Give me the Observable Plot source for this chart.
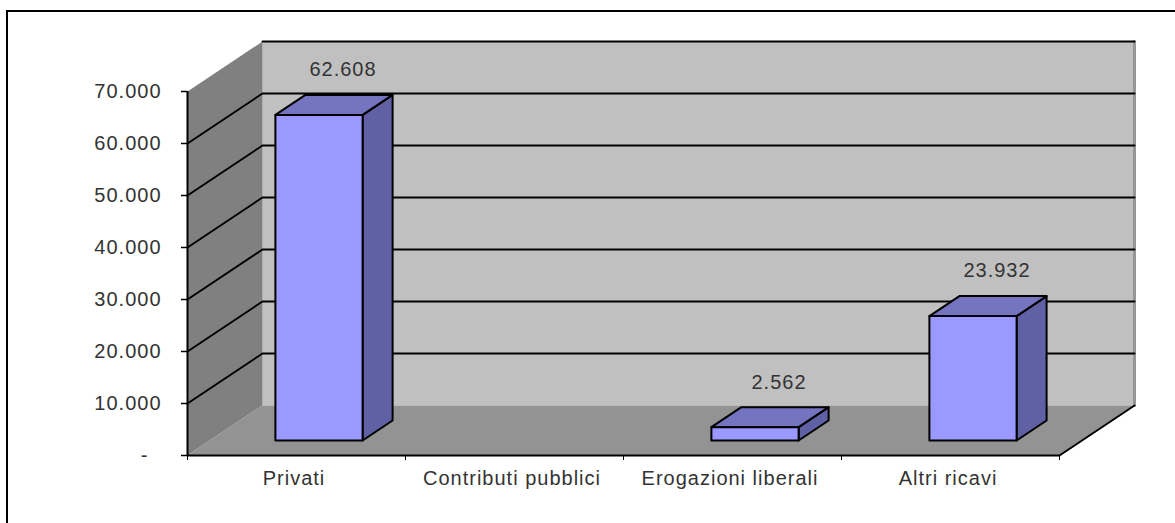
<!DOCTYPE html>
<html><head><meta charset="utf-8">
<script src="https://cdn.jsdelivr.net/npm/d3@7"></script>
<script src="https://cdn.jsdelivr.net/npm/@observablehq/plot@0.6"></script>
<style>
html,body{margin:0;padding:0;background:#fff}
#chart{position:relative;width:1175px;height:523px;overflow:hidden}
#chart svg{position:absolute;left:0;top:0;overflow:visible}
#chart svg text{letter-spacing:1px}
#box{position:absolute;left:6px;top:10px;width:1300px;height:700px;border-left:2px solid #000;border-top:2px solid #000}
</style></head><body>
<div id="chart"><div id="box"></div></div>
<script>
const categories = ["Privati", "Contributi pubblici", "Erogazioni liberali", "Altri ricavi"];
const values = [62608, 0, 2562, 23932];
const valueLabels = ["62.608", "", "2.562", "23.932"];
const yTicks = [0, 10000, 20000, 30000, 40000, 50000, 60000, 70000];

const W = 1175, H = 523, mL = 187, mR = 116, mT = 91, mB = 68;
const yMax = 70000, nCat = categories.length;
// oblique depth vector in data units
const depthX = 75 / ((W - mL - mR) / nCat);
const depthY = 50 / ((H - mT - mB) / yMax);
const P = (c, v, d) => ({x: c + d * depthX, y: v + d * depthY});
const poly = (id, fill, pts) => [...pts, pts[0]].map(([c, v, d]) => ({id, fill, ...P(c, v, d)}));

const shapes = [
  ...poly("wallBack", "#c0c0c0", [[0,0,1],[nCat,0,1],[nCat,yMax,1],[0,yMax,1]]),
  ...poly("wallSide", "#808080", [[0,0,0],[0,0,1],[0,yMax,1],[0,yMax,0]]),
  ...poly("floor", "#939393", [[0,0,0],[nCat,0,0],[nCat,0,1],[0,0,1]])
];
const polyMark = (rows, stroke, strokeWidth) => Plot.line(rows, {x:"x", y:"y", z:"id", fill:"fill", stroke, strokeWidth, curve:"linear"});

const gridRows = yTicks.filter(t => t > 0).flatMap(t => [
  ...(t < yMax ? [{id:t, ...P(0, t, 0)}] : []), {id:t, ...P(0, t, 1)}, {id:t, ...P(nCat, t, 1)}
]);
const frontEdges = [
  {id:"a", ...P(0,0,0)}, {id:"a", ...P(nCat,0,0)}, {id:"a", ...P(nCat,0,1)}
];
const backEdge = [{id:"r", ...P(nCat,0,1)}, {id:"r", ...P(nCat,yMax,1)}];

const x0 = .3, x1 = .7, d0 = .3, d1 = .7;
const barRows = categories.flatMap((c, i) => {
  const v = values[i];
  if (!v) return [];
  const a = i + x0, b = i + x1;
  return [
    ...poly(c+"side", "#6060a4", [[b,0,d0],[b,0,d1],[b,v,d1],[b,v,d0]]),
    ...poly(c+"top", "#7474c0", [[a,v,d0],[b,v,d0],[b,v,d1],[a,v,d1]]),
    ...poly(c+"front", "#9999ff", [[a,0,d0],[b,0,d0],[b,v,d0],[a,v,d0]])
  ];
});
const labelRows = categories.map((c, i) => ({label: valueLabels[i], ...P(i + .5, values[i], .5)})).filter(d => d.label);

const plot = Plot.plot({
  width: W, height: H,
  marginLeft: mL, marginRight: mR, marginTop: mT, marginBottom: mB,
  style: {background: "transparent", fontFamily: "'Liberation Sans',Arial,sans-serif", fontSize: "20px", color: "#333"},
  x: {domain: [0, nCat], axis: null},
  y: {domain: [0, yMax], axis: null},
  marks: [
    polyMark(shapes, "none", 0),
    Plot.line(backEdge, {x:"x", y:"y", z:"id", stroke:"#969696", strokeWidth:3, curve:"linear"}),
    Plot.line(gridRows, {x:"x", y:"y", z:"id", stroke:"#000", strokeWidth:2, curve:"linear"}),
    Plot.line(frontEdges, {x:"x", y:"y", z:"id", stroke:"#000", strokeWidth:2, curve:"linear"}),
    polyMark(barRows, "#000", 2),
    Plot.text(labelRows, {x:"x", y:"y", text:"label", dx:9, dy:-35, fill:"#333", fontSize:20}),
    Plot.axisY({ticks: yTicks, tickSize: 6, tickPadding: 20, stroke:"#000", strokeWidth:1.5, label:null, fontSize:20, fill:"#333",
      tickFormat: t => t === 0 ? "-\u00a0\u00a0" : t.toLocaleString("de-DE")}),
    Plot.ruleX([0], {stroke:"#000", strokeWidth:2}),
    Plot.axisX({ticks: d3.range(nCat + 1), tickSize: 5, tickFormat: () => "", label:null, stroke:"#000", strokeWidth:1}),
    Plot.axisX({ticks: categories.map((c, i) => i + .5), tickSize: 0, tickPadding: 15, dx:-2.5, label:null, fontSize:20, fill:"#333",
      tickFormat: t => categories[Math.floor(t)]})
  ]
});
document.getElementById("chart").appendChild(plot);
</script></body></html>
